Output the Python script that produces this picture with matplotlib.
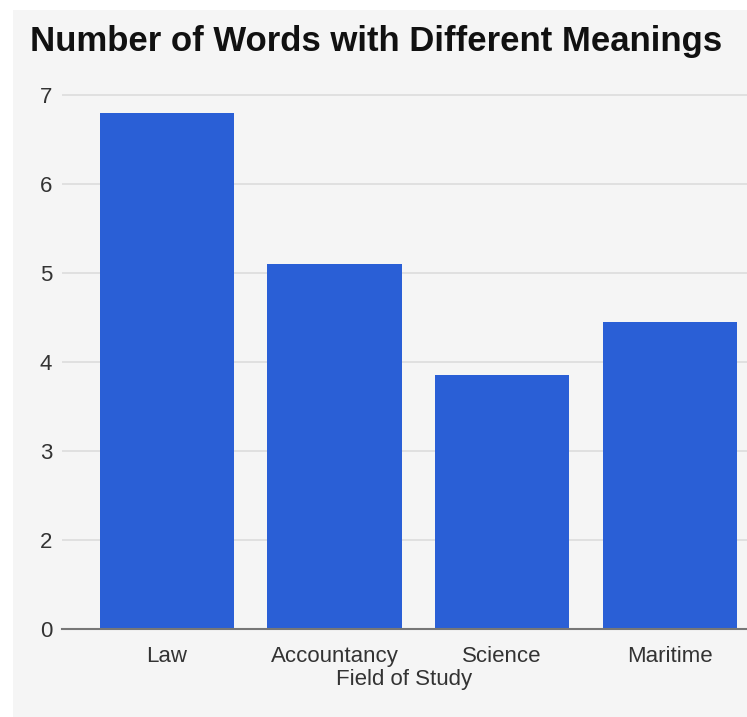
import matplotlib.pyplot as plt
from matplotlib.patches import Rectangle

# Chart data
fields = ["Law", "Accountancy", "Science", "Maritime"]
word_counts = [6.8, 5.1, 3.85, 4.45]
# the axis in the source skips "1": the lowest gridline is labelled 0
ytick_values = [1, 2, 3, 4, 5, 6, 7]
ytick_labels = ["0", "2", "3", "4", "5", "6", "7"]

plt.rcParams['font.family'] = ['Liberation Sans', 'DejaVu Sans']

fig = plt.figure(figsize=(7.47, 7.17), dpi=100, facecolor='white')

# light grey panel behind everything
fig.patches.append(Rectangle((13 / 747, 0), 1, 1 - 10 / 717, transform=fig.transFigure,
                             facecolor='#f5f5f5', edgecolor='none', zorder=-1))

ax = fig.add_axes([62 / 747, 88 / 717, 1 - 62 / 747, (629 - 77) / 717])
ax.set_facecolor('none')

x = range(len(fields))
ax.bar(x, word_counts, width=0.8, bottom=0, color='#2a5fd6', zorder=3)

ax.set_xlim(-0.625, 3.46)
ax.set_ylim(1, 7.2)
ax.set_yticks(ytick_values, labels=ytick_labels)
ax.set_xticks(list(x), labels=fields)

ax.grid(axis='y', color='#dcdcdc', linewidth=1.2, zorder=0)
for s in ['top', 'right', 'left']:
    ax.spines[s].set_visible(False)
ax.spines['bottom'].set_color('#777777')
ax.spines['bottom'].set_linewidth(1.5)
ax.spines['bottom'].set_zorder(4)

ax.tick_params(axis='y', length=0, pad=7, labelsize=16, labelcolor='#333333')
ax.tick_params(axis='x', length=0, pad=12, labelsize=16, labelcolor='#333333')

ax.set_xlabel("Field of Study", fontsize=16, color='#333333', labelpad=2)
fig.text(376 / 747, 1 - 41 / 717, "Number of Words with Different Meanings",
         ha='center', va='center', fontsize=25, fontweight='bold', color='#111111')

fig.savefig("out.png", dpi=100, facecolor=fig.get_facecolor())
